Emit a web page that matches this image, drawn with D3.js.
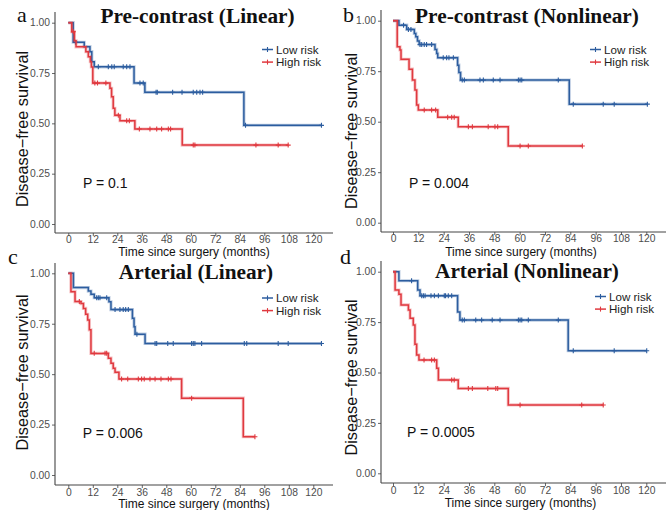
<!DOCTYPE html>
<html><head><meta charset="utf-8">
<script src="https://cdn.jsdelivr.net/npm/d3@7"></script>
<style>body{margin:0;background:#fff}svg{display:block}</style>
</head><body>
<svg id="c" width="666" height="510"></svg>
<script>
// ---------- data ----------
const xTicks = [0,12,24,36,48,60,72,84,96,108,120];
const yTicks = [0,0.25,0.5,0.75,1];
const groups = ["Low risk","High risk"];
const titles = ["Pre-contrast (Linear)","Pre-contrast (Nonlinear)","Arterial (Linear)","Arterial (Nonlinear)"];
const letters = ["a","b","c","d"];
const pValues = ["P = 0.1","P = 0.004","P = 0.006","P = 0.0005"];
const yTitle = "Disease\u2212free survival";
const xTitle = "Time since surgery (months)";

// panel a
const aLowTime = [2.4,7.8,10.6,11.5,12.7,32.2,37.5,86];
const aLowSurv = [0.903,0.881,0.856,0.806,0.781,0.70,0.654,0.49];
const aLowCensor = [3.5,14.7,19.6,21.3,22.5,26.9,28.6,30.2,35.1,36.7,43,43.6,51.1,55.7,61.2,62.9,64.5,65.8,86.8];
const aLowEnd = 124;
const aHighTime = [1.7,3.0,3.8,8.6,9.8,10.8,11.3,12.0,20.4,21.2,22.0,22.8,25.3,32.6,55.8];
const aHighSurv = [0.955,0.91,0.88,0.856,0.831,0.806,0.78,0.70,0.674,0.632,0.575,0.54,0.513,0.472,0.392];
const aHighCensor = [2.5,13,14.3,18.4,24.5,28.6,29.9,34.8,40,43.3,45.7,49,50.1,61.2,62,91.9,102.8];
const aHighEnd = 107.7;
// panel b
const bLowTime = [2.8,6.5,10.1,10.8,11.6,12.4,19.9,20.7,21.2,30.6,31.2,32.0,83.5];
const bLowSurv = [0.978,0.957,0.937,0.92,0.90,0.882,0.858,0.838,0.817,0.78,0.743,0.706,0.587];
const bLowCensor = [5,7.3,8.5,12.8,13.6,14.8,15.9,18.3,23.8,25.4,26.5,28.6,32.8,33.8,41.2,42.8,47.5,50.7,59.4,60.2,61,78.3,85.4,99.6,104.8];
const bLowEnd = 120.5;
const bHighTime = [2.0,3.3,3.8,7.6,9.2,10.4,11.2,12.0,21.2,30.9,54.6];
const bHighSurv = [0.871,0.855,0.809,0.76,0.706,0.657,0.583,0.558,0.522,0.475,0.38];
const bHighCensor = [14.8,18.3,20.2,25.9,27.8,29,35.7,37.6,45.1,48.3,49.6,60.2,64.1];
const bHighEnd = 89.7;
// panel c
const cLowTime = [2.5,9.8,11.1,12.7,19.9,20.9,31.4,32.2,32.7,37.6];
const cLowSurv = [0.929,0.912,0.896,0.879,0.859,0.82,0.777,0.735,0.698,0.652];
const cLowCensor = [13.9,14.7,15.5,18.8,22.9,25.3,26.9,28.1,29.4,33.6,42.5,43.3,48.7,51.4,60.4,61.2,62,65.3,86.2,87.4,102.8,107.7];
const cLowEnd = 124;
const cHighTime = [1.3,3.3,6.2,7.4,8.5,9.5,10.3,11.1,19.6,20.9,22.0,22.9,24.8,55.5,85.7];
const cHighSurv = [0.909,0.86,0.85,0.826,0.797,0.769,0.72,0.603,0.579,0.554,0.529,0.509,0.476,0.381,0.19];
const cHighCensor = [5.4,12.7,18,18.8,26.1,29.1,34.3,35.9,37.2,40,42.5,45.4,49,50.3,60.4];
const cHighEnd = 91.4;
// panel d
const dLowTime = [2.8,11.7,12.8,30.6,31.7,83];
const dLowSurv = [0.955,0.909,0.881,0.80,0.76,0.608];
const dLowCensor = [8.8,13.6,14.4,15.2,18,19.6,21.5,24.3,24.9,26.2,27.8,32.8,33.8,39.2,42,47,50.7,59.4,60.2,61,64.1,78.3,85.4,104.8];
const dLowEnd = 120.2;
const dHighTime = [1.0,2.8,3.8,7.3,8.1,9.6,10.4,11.2,12.3,20.7,21.5,30.9,54.6];
const dHighSurv = [0.909,0.888,0.835,0.81,0.769,0.736,0.64,0.587,0.562,0.521,0.463,0.421,0.339];
const dHighCensor = [14.7,18.3,19.6,27.8,29,35.7,37.6,44.9,48.7,49.6,60.2,89.4];
const dHighEnd = 99.6;

const panelData = [
  [[aLowTime,aLowSurv,aLowCensor,aLowEnd],[aHighTime,aHighSurv,aHighCensor,aHighEnd]],
  [[bLowTime,bLowSurv,bLowCensor,bLowEnd],[bHighTime,bHighSurv,bHighCensor,bHighEnd]],
  [[cLowTime,cLowSurv,cLowCensor,cLowEnd],[cHighTime,cHighSurv,cHighCensor,cHighEnd]],
  [[dLowTime,dLowSurv,dLowCensor,dLowEnd],[dHighTime,dHighSurv,dHighCensor,dHighEnd]]
];

// ---------- layout ----------
const colors = ["#2c5d9f","#e0393f"];
const layout = [
  {left:55, right:333, top:12, axisY:233, pad:0, x0:68.3, x1:313.3, y1:22.7, y0:224, titleX:197.5, titleY:23, letterX:17, letterY:22,
   ytX:28, ytY:129, xtX:194, xtY:256.3, legX:262, legY:49.5, pX:83, pY:188},
  {left:381, right:666, top:10, axisY:232, pad:0, x0:393, x1:646.3, y1:20.7, y0:222.7, titleX:527, titleY:23, letterX:343, letterY:22,
   ytX:357, ytY:131, xtX:521, xtY:256, legX:590, legY:49.5, pX:409, pY:187.5},
  {left:55, right:333, top:263, axisY:485, pad:0.8, x0:68.3, x1:313.3, y1:273.3, y0:475, titleX:196, titleY:278.6, letterX:8, letterY:264,
   ytX:28, ytY:372.5, xtX:194, xtY:508.4, legX:262, legY:298, pX:82.7, pY:438},
  {left:381, right:666, top:261, axisY:483, pad:0.8, x0:393, x1:646.3, y1:271.7, y0:473.3, titleX:527, titleY:278.2, letterX:340, letterY:264,
   ytX:357, ytY:377.5, xtX:520.5, xtY:506.6, legX:595, legY:296.5, pX:407, pY:436.5}
];

const svg = d3.select("#c");
const sans = "'Liberation Sans', Arial, sans-serif";
const serif = "'Liberation Serif', 'Times New Roman', serif";

function survAt(times, survs, t){
  let s = 1;
  for(let i=0;i<times.length;i++){ if(times[i] <= t) s = survs[i]; }
  return s;
}

layout.forEach((L, pi) => {
  const g = svg.append("g");
  const x = d3.scaleLinear().domain([0,120]).range([L.x0, L.x1]);
  const y = d3.scaleLinear().domain([0,1]).range([L.y0, L.y1]);

  // axes
  const xAxis = d3.axisBottom(x).tickValues(xTicks).tickSize(3).tickPadding(L.pad).tickFormat(d3.format("d"));
  const gx = g.append("g").attr("transform", `translate(0,${L.axisY})`).call(xAxis);
  const yAxis = d3.axisLeft(y).tickValues(yTicks).tickSize(3).tickPadding(2).tickFormat(d3.format(".2f"));
  const gy = g.append("g").attr("transform", `translate(${L.left},0)`).call(yAxis);
  [gx,gy].forEach(a => {
    a.select(".domain").remove();
    a.selectAll(".tick line").attr("stroke","#555").attr("stroke-width",0.9);
    a.selectAll(".tick text").attr("fill","#4d4d4d").attr("font-size",10.3).attr("font-family",sans);
  });
  g.append("line").attr("x1",L.left).attr("x2",L.right).attr("y1",L.axisY).attr("y2",L.axisY)
    .attr("stroke","#444").attr("stroke-width",1.1);
  g.append("line").attr("x1",L.left).attr("x2",L.left).attr("y1",L.top).attr("y2",L.axisY)
    .attr("stroke","#444").attr("stroke-width",1.1);

  // curves
  const line = d3.line().curve(d3.curveStepAfter).x(d => x(d[0])).y(d => y(d[1]));
  panelData[pi].forEach((gd, gi) => {
    const [times, survs, cens, end] = gd;
    const pts = [[0,1]];
    times.forEach((t,i) => pts.push([t, survs[i]]));
    pts.push([end, survs[survs.length-1]]);
    g.append("path").attr("d", line(pts)).attr("fill","none")
      .attr("stroke", colors[gi]).attr("stroke-opacity",0.3).attr("stroke-width",3.2);
    g.append("path").attr("d", line(pts)).attr("fill","none")
      .attr("stroke", colors[gi]).attr("stroke-width",1.5);
    const allC = cens.concat([end]);
    g.selectAll(null).data(allC).enter().append("path")
      .attr("d", t => { const cx = x(t), cy = y(survAt(times, survs, t));
        return `M${cx-2.5},${cy}H${cx+2.5}M${cx},${cy-2.5}V${cy+2.5}`; })
      .attr("stroke", colors[gi]).attr("stroke-width",1.1).attr("fill","none");
  });

  // legend
  groups.forEach((name, gi) => {
    const ly = L.legY + gi*12.6;
    g.append("line").attr("x1",L.legX).attr("x2",L.legX+11).attr("y1",ly).attr("y2",ly)
      .attr("stroke",colors[gi]).attr("stroke-width",1.5);
    g.append("path").attr("d",`M${L.legX+5.5},${ly-2.5}V${ly+2.5}`).attr("stroke",colors[gi]).attr("stroke-width",1.1);
    g.append("text").attr("x",L.legX+14).attr("y",ly+4.2).text(name)
      .attr("font-family",sans).attr("font-size",11.6).attr("fill","#222");
  });

  // texts
  g.append("text").attr("x",L.titleX).attr("y",L.titleY).attr("text-anchor","middle")
    .attr("font-family",serif).attr("font-weight","bold").attr("font-size",21.3).attr("fill","#111").text(titles[pi]);
  g.append("text").attr("x",L.letterX).attr("y",L.letterY)
    .attr("font-family",serif).attr("font-size",22).attr("fill","#111").text(letters[pi]);
  g.append("text").attr("transform",`translate(${L.ytX},${L.ytY}) rotate(-90)`).attr("text-anchor","middle")
    .attr("font-family",sans).attr("font-size",16.3).attr("fill","#111").text(yTitle);
  g.append("text").attr("x",L.xtX).attr("y",L.xtY).attr("text-anchor","middle")
    .attr("font-family",sans).attr("font-size",12).attr("fill","#111").text(xTitle);
  g.append("text").attr("x",L.pX).attr("y",L.pY)
    .attr("font-family",sans).attr("font-size",14).attr("fill","#111").text(pValues[pi]);
});
</script>
</body></html>
